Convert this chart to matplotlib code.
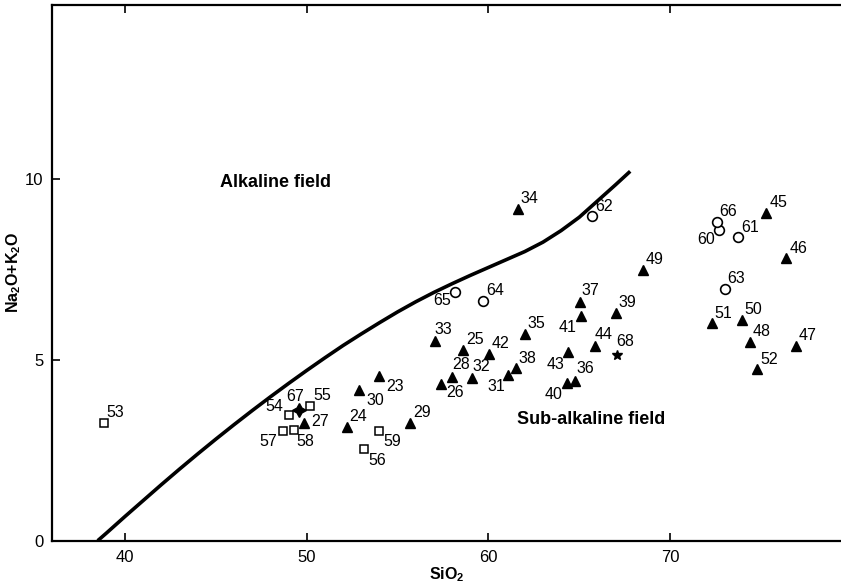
import matplotlib
matplotlib.use("Agg")
import matplotlib.pyplot as plt
import numpy as np

plt.rcParams['font.family'] = ['Liberation Sans', 'DejaVu Sans']
plt.rcParams['mathtext.fontset'] = 'custom'
plt.rcParams['mathtext.rm'] = 'Liberation Sans'
plt.rcParams['mathtext.bf'] = 'Liberation Sans:bold'

# ---- data ----
boundary_sio2 = [38.5, 39, 40, 41, 42, 43, 44, 45, 46, 47, 48, 49, 50, 51, 52, 53, 54, 55,
                 56, 57, 58, 59, 60, 61, 62, 63, 64, 65, 66, 67, 67.8]
boundary_alk = [0.0, 0.22, 0.67, 1.11, 1.55, 1.98, 2.40, 2.81, 3.21, 3.60, 3.98, 4.35, 4.71,
                5.06, 5.40, 5.72, 6.03, 6.33, 6.61, 6.87, 7.11, 7.34, 7.56, 7.78, 8.00, 8.26,
                8.58, 8.95, 9.40, 9.85, 10.22]

tri_ids = ['23', '24', '25', '26', '27', '28', '29', '30', '31', '32', '33', '34', '35', '36',
           '37', '38', '39', '40', '41', '42', '43', '44', '45', '46', '47', '48', '49', '50',
           '51', '52']
tri_sio2 = [54.0, 52.2, 58.6, 57.4, 49.85, 58.0, 55.7, 52.9, 61.1, 59.1, 57.05, 61.6, 62.0, 64.75,
            65.05, 61.5, 67.0, 64.3, 65.1, 60.05, 64.4, 65.85, 75.3, 76.4, 76.9, 74.4, 68.5, 73.95,
            72.3, 74.8]
tri_alk = [4.55, 3.15, 5.28, 4.34, 3.26, 4.54, 3.25, 4.17, 4.58, 4.49, 5.52, 9.17, 5.73, 4.43,
           6.61, 4.77, 6.31, 4.37, 6.22, 5.16, 5.21, 5.39, 9.06, 7.81, 5.39, 5.50, 7.49, 6.10,
           6.01, 4.74]

sq_ids = ['53', '54', '55', '56', '57', '58', '59']
sq_sio2 = [38.85, 49.0, 50.2, 53.15, 48.7, 49.3, 54.0]
sq_alk = [3.26, 3.48, 3.73, 2.54, 3.04, 3.06, 3.04]

circ_ids = ['60', '61', '62', '63', '64', '65', '66']
circ_sio2 = [72.7, 73.75, 65.7, 73.0, 59.7, 58.15, 72.55]
circ_alk = [8.61, 8.39, 8.97, 6.96, 6.64, 6.89, 8.83]

cross_ids = ['67']
cross_sio2 = [49.6]
cross_alk = [3.62]

star_ids = ['68']
star_sio2 = [67.05]
star_alk = [5.14]

x_ticks = [40, 50, 60, 70]
y_ticks = [0, 5, 10]

# label placement (offset in points, ha, va); default upper right
default_place = ((2, 2), 'left', 'bottom')
label_place = {
    '65': ((-3, -1), 'right', 'top'),
    '54': ((-4, 1), 'right', 'bottom'),
    '67': ((-3, 4), 'center', 'bottom'),
    '27': ((5, 1), 'left', 'center'),
    '57': ((-4, -2), 'right', 'top'),
    '58': ((2, -3), 'left', 'top'),
    '30': ((5, -2), 'left', 'top'),
    '23': ((5, -2), 'left', 'top'),
    '59': ((3, -2), 'left', 'top'),
    '56': ((3, -3), 'left', 'top'),
    '26': ((4, -1), 'left', 'top'),
    '31': ((-2, -3), 'right', 'top'),
    '41': ((-3, -3), 'right', 'top'),
    '43': ((-3, -3), 'right', 'top'),
    '40': ((-3, -3), 'right', 'top'),
    '60': ((-3, -2), 'right', 'top'),
    '33': ((0, 3), 'left', 'bottom'),
    '28': ((0, 3), 'left', 'bottom'),
    '32': ((0, 3), 'left', 'bottom'),
    '36': ((1, 3), 'left', 'bottom'),
    '68': ((0, 4), 'left', 'bottom'),
    '44': ((0, 3), 'left', 'bottom'),
    '37': ((1, 3), 'left', 'bottom'),
}

fig = plt.figure(figsize=(8.41, 5.85), dpi=100)
ax = fig.add_axes([0.0615, 0.0757, 1 - 0.0615, 0.9163])

ax.plot(boundary_sio2, boundary_alk, color='black', lw=2.6, solid_capstyle='butt',
        solid_joinstyle='round', zorder=2)

ax.plot(tri_sio2, tri_alk, ls='none', marker='^', ms=7.5, mfc='black', mec='black', zorder=3)
ax.plot(sq_sio2, sq_alk, ls='none', marker='s', ms=6.2, mfc='white', mec='black', mew=1.1, zorder=3)
ax.plot(circ_sio2, circ_alk, ls='none', marker='o', ms=7, mfc='white', mec='black', mew=1.2, zorder=3)
ax.plot(cross_sio2, cross_alk, ls='none', marker=(4, 1, 0), ms=10, mfc='black', mec='black', zorder=3)
ax.plot(star_sio2, star_alk, ls='none', marker='*', ms=7.5, mfc='black', mec='black', zorder=3)

for ids, xs, ys in [(tri_ids, tri_sio2, tri_alk), (sq_ids, sq_sio2, sq_alk),
                    (circ_ids, circ_sio2, circ_alk), (cross_ids, cross_sio2, cross_alk),
                    (star_ids, star_sio2, star_alk)]:
    for lab, x, y in zip(ids, xs, ys):
        (dx, dy), ha, va = label_place.get(lab, default_place)
        ax.annotate(lab, (x, y), xytext=(dx, dy), textcoords='offset points',
                    ha=ha, va=va, fontsize=11.5, color='black', zorder=4)

ax.text(48.3, 9.9, 'Alkaline field', fontsize=13, fontweight='bold', ha='center', va='center')
ax.text(65.65, 3.34, 'Sub-alkaline field', fontsize=13, fontweight='bold', ha='center', va='center')

ax.set_xlim(35.97, 79.4)
ax.set_ylim(0, 14.83)
ax.set_xticks(x_ticks)
ax.set_yticks(y_ticks)
ax.tick_params(direction='in', length=6, width=1.2, labelsize=12, top=True, right=False,
               labeltop=False)
ax.tick_params(axis='x', pad=7)
ax.tick_params(axis='y', pad=6)
for s in ['left', 'bottom', 'top']:
    ax.spines[s].set_linewidth(1.6)
ax.spines['right'].set_visible(False)

ax.set_xlabel(r'$\mathbf{SiO_2}$', fontsize=11.5, labelpad=0)
ax.set_ylabel(r'$\mathbf{Na_2O{+}K_2O}$', fontsize=11.5, labelpad=1)

fig.savefig('out.png', dpi=100)
